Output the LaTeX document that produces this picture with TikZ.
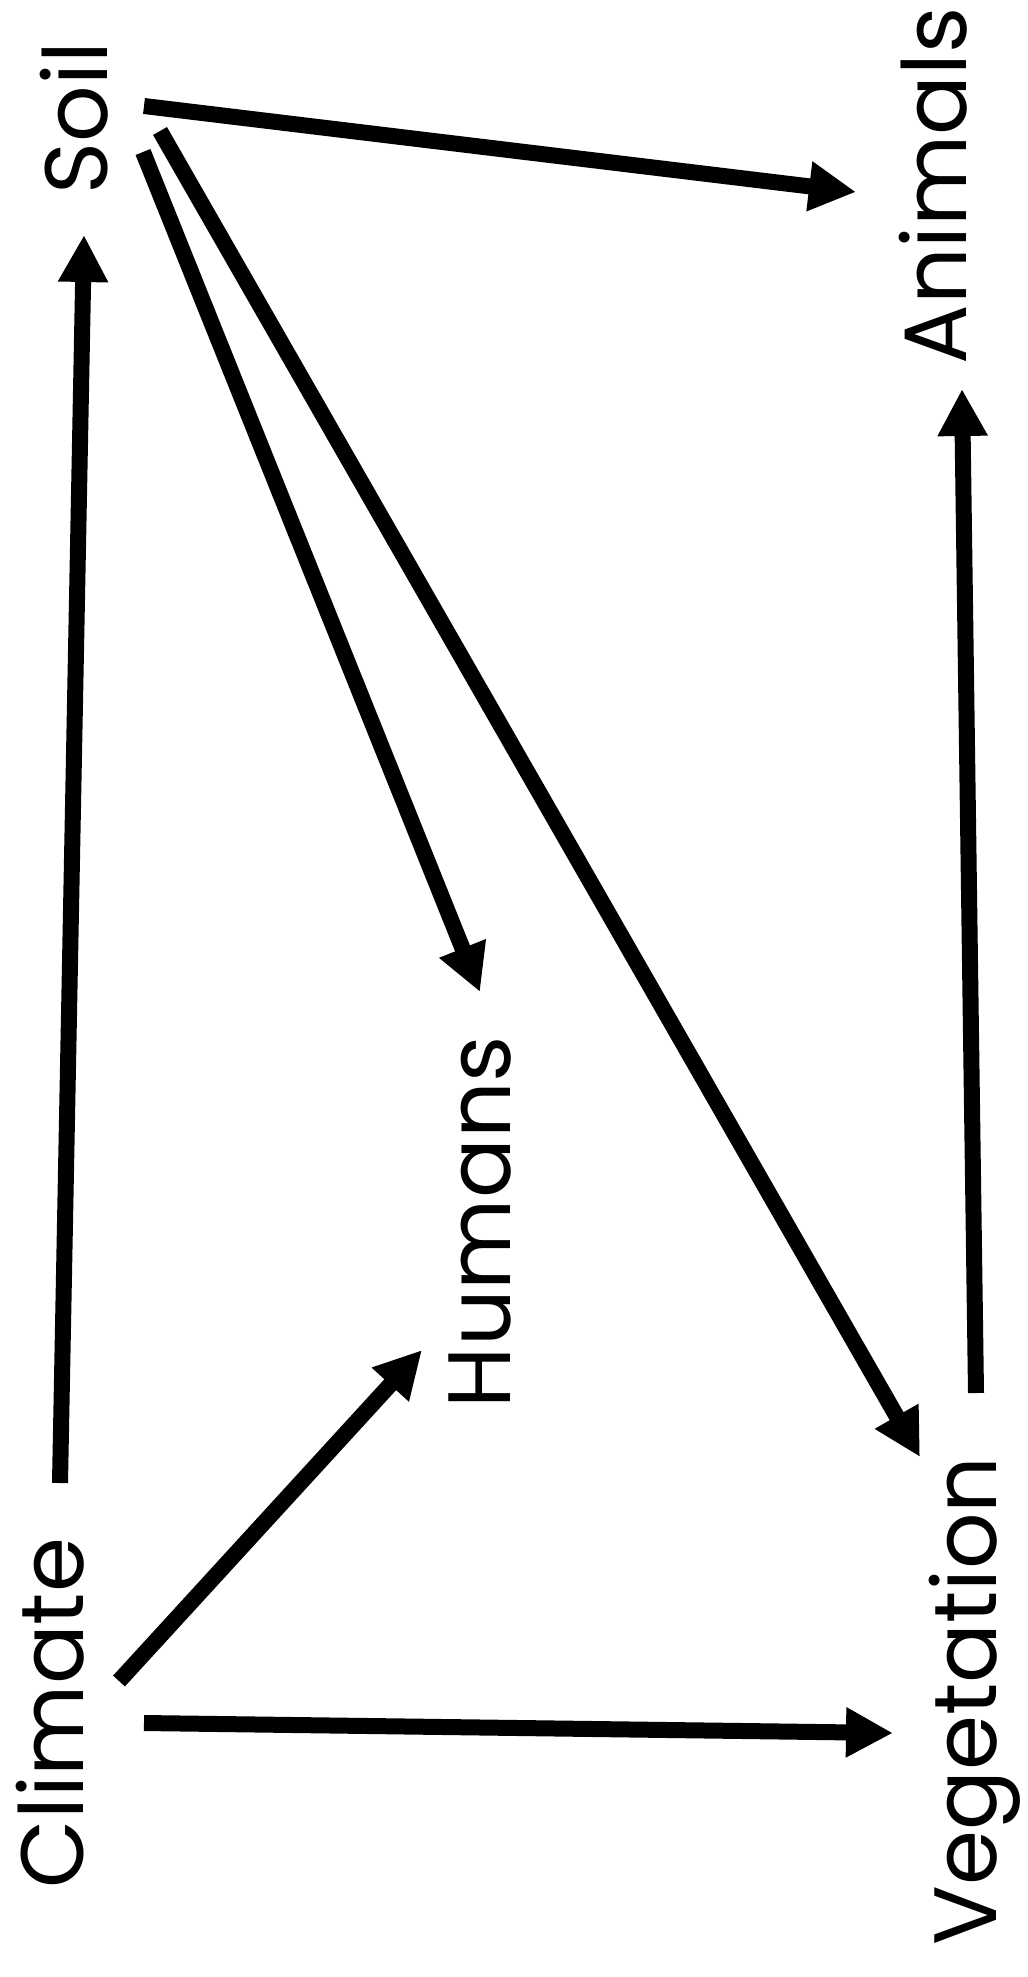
\documentclass[tikz,border=0pt]{standalone}
\usepackage{fontspec}
\setmainfont{Poppins}
\usetikzlibrary{arrows.meta,calc}

\begin{document}
\begin{tikzpicture}[x=0.25mm,y=-0.25mm,
  factor/.style={rotate=90,anchor=base,inner sep=0pt,font=\fontsize{63}{63}\selectfont},
  link/.style={-{Triangle[length=11.75mm,width=11.75mm]},line width=4mm}]
\useasboundingbox (0,0) rectangle (1027,1977);
\node[factor] (soil) at (107,118) {Soil};
\node[factor] (animals) at (966,186) {Animals};
\node[factor] (humans) at (510,1222) {Humans};
\node[factor] (climate) at (83,1713) {Climate};
\node[factor] (vegetation) at (996,1701) {Vegetation};
% links out of soil
\draw[link] ($(soil.base)+(37,-12)$) -- ($(animals.base)+(-110,6)$);
\draw[link] ($(soil.base)+(36,34)$) -- ($(humans.base)+(-30,-230)$);
\draw[link] ($(soil.base)+(53,13)$) -- ($(vegetation.base)+(-76,-244)$);
% links out of climate
\draw[link] ($(climate.base)+(-23,-230)$) -- ($(soil.base)+(-23,117)$);
\draw[link] ($(climate.base)+(36,-32)$) -- ($(humans.base)+(-88,128)$);
\draw[link] ($(climate.base)+(61,10)$) -- ($(vegetation.base)+(-103,32)$);
\draw[link] ($(vegetation.base)+(-20,-308)$) -- ($(animals.base)+(-4,203)$);
\end{tikzpicture}
\end{document}
